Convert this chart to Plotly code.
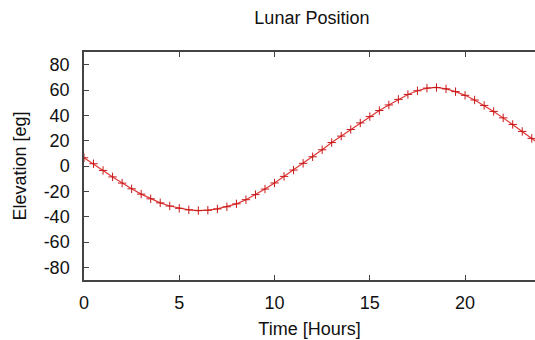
import plotly.graph_objects as go

hours = [i * 0.5 for i in range(49)]
elevation = [6.5, 1.8, -3.5, -8.6, -13.5, -18.0, -22.2, -25.9, -29.1, -31.6,
             -33.4, -34.6, -35.2, -34.9, -33.9, -32.2, -29.9, -26.6, -22.6, -18.2,
             -13.4, -8.2, -3.2, 2.1, 7.3, 12.8, 18.5, 23.6, 28.8, 34.0,
             39.0, 43.8, 48.2, 52.6, 56.5, 59.4, 61.5, 62.0, 60.9, 58.7,
             55.8, 52.1, 47.8, 43.1, 38.0, 32.8, 27.3, 21.8, 16.2]
y_ticks = [-80, -60, -40, -20, 0, 20, 40, 60, 80]
y_labels = ["-80", "-60", "-40", "-20", "0", "20", "40", "60", "80"]
x_ticks = [0, 5, 10, 15, 20]

fig = go.Figure()
fig.add_trace(go.Scatter(
    x=hours, y=elevation, mode="lines+markers",
    line=dict(color="#e03838", width=1.2),
    marker=dict(symbol="cross-thin", size=6, line=dict(color="#c81818", width=1)),
    cliponaxis=True, showlegend=False,
))

font = "Liberation Sans, Arial, Helvetica, sans-serif"
fig.update_layout(
    width=535, height=340,
    margin=dict(l=84, r=0, t=52, b=60),
    paper_bgcolor="white", plot_bgcolor="white",
    font=dict(family=font, size=18, color="#111"),
    title=dict(text="Lunar Position", x=0.583, xanchor="center", y=0.947, yanchor="middle",
               font=dict(size=18, color="#111")),
    xaxis=dict(range=[0, 23.67], tickvals=x_ticks, ticks="inside", ticklen=5,
               tickcolor="#444", showline=True, linecolor="#444", linewidth=1.5,
               mirror="ticks", showgrid=False, zeroline=False, automargin=False,
               ticklabelstandoff=6,
               title=dict(text="Time [Hours]", standoff=10, font=dict(size=18))),
    yaxis=dict(range=[-90, 90], tickvals=y_ticks, ticktext=y_labels, ticks="inside", ticklen=5,
               tickcolor="#444", showline=True, linecolor="#444", linewidth=1.5,
               mirror=False, showgrid=False, zeroline=False, automargin=False,
               ticklabelstandoff=9,
               title=dict(text="Elevation [eg]", standoff=12, font=dict(size=18))),
)
fig.write_html(
    "out.html",
    config={"displayModeBar": False},
    post_script="document.body.style.margin='0';document.body.style.overflow='hidden';",
)
